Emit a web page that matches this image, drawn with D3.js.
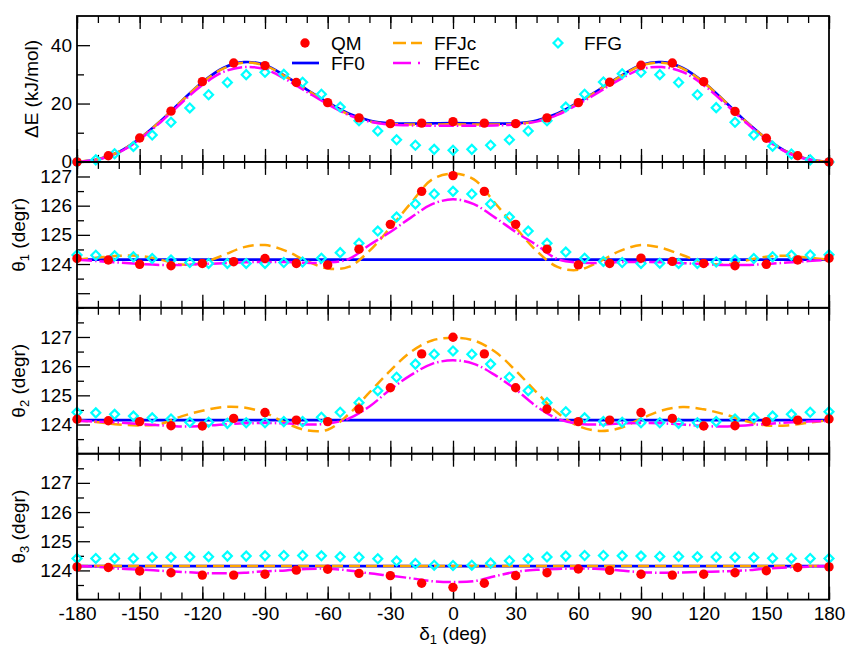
<!DOCTYPE html>
<meta charset="utf-8">
<script src="https://d3js.org/d3.v7.min.js"></script>
<style>
  body { margin: 0; background: #fff; }
  text { font-family: "Liberation Sans", Arial, Helvetica, sans-serif; fill: #000; }
</style>
<div id="chart"></div>
<script>

// angle grids (deg)
const qmX = d3.range(-180, 181, 15);
const lineX = d3.range(-180, 181, 10);
const ffgX = d3.range(-180, 181, 9);
const flatX = [-180, 180];

const xMajor = [-180, -150, -120, -90, -60, -30, 0, 30, 60, 90, 120, 150, 180];
const xMinor = d3.range(-180, 181, 10);

// ---- panel 1 : dE (kJ/mol)
const qmE = [0, 2.1, 8.2, 17.4, 27.5, 33.9, 33.0, 27.2, 20.3, 15.1, 13.1, 13.3, 13.8,
             13.3, 13.1, 15.1, 20.3, 27.3, 33.1, 33.9, 27.5, 17.3, 8.1, 2.1, 0];
const ff0E = [0, 0.9, 3.4, 8.0, 14.0, 20.8, 27.3, 32.2, 34.2, 33.2, 29.3, 24.8, 20.4, 16.6, 14.2, 13.2, 13.1, 13.2, 13.3,
              13.2, 13.1, 13.2, 14.2, 16.6, 20.4, 24.8, 29.3, 33.2, 34.2, 32.2, 27.3, 20.8, 14.0, 8.0, 3.4, 0.9, 0];
const ffjcE = [0, 0.9, 3.4, 8.0, 14.0, 20.8, 27.2, 32.0, 34.0, 33.0, 29.2, 24.7, 20.2, 16.3, 13.9, 13.0, 12.8, 12.8, 12.9,
               12.8, 12.8, 13.0, 13.9, 16.3, 20.2, 24.7, 29.2, 33.0, 34.0, 32.0, 27.2, 20.8, 14.0, 8.0, 3.4, 0.9, 0];
const ffecE = [0, 0.8, 3.2, 7.7, 13.6, 20.2, 26.3, 30.8, 32.5, 31.8, 28.3, 24.0, 19.8, 16.1, 13.8, 12.8, 12.5, 12.4, 12.4,
               12.4, 12.5, 12.8, 13.8, 16.1, 19.8, 24.0, 28.3, 31.8, 32.5, 30.8, 26.3, 20.2, 13.6, 7.7, 3.2, 0.8, 0];
const ffgE = [0, 0.7, 2.8, 5.3, 9.2, 13.6, 18.5, 23.0, 27.2, 29.9, 30.7, 30.0, 27.3, 23.2, 18.8, 14.1, 10.6, 7.6, 5.7, 4.3, 4.0,
              4.3, 5.7, 7.6, 10.6, 14.1, 18.8, 23.2, 27.4, 30.2, 30.7, 29.9, 27.2, 23.0, 18.6, 13.6, 9.2, 5.4, 2.7, 0.7, 0];

// ---- panel 2 : theta1 (degr)
const qmT1 = [124.19, 124.14, 123.99, 123.94, 124.02, 124.08, 124.19, 124.02, 123.97, 124.51, 125.36, 126.49, 127.03,
              126.49, 125.36, 124.51, 123.97, 124.02, 124.20, 124.09, 124.02, 123.94, 123.99, 124.14, 124.20];
const ff0T1 = [124.15, 124.15];
const ffjcT1 = [124.15, 124.22, 124.28, 124.28, 124.15, 123.98, 124.04, 124.30, 124.58, 124.65, 124.45, 124.10, 123.85, 123.90, 124.45, 125.25, 126.10, 126.90, 127.10,
                126.90, 126.10, 125.25, 124.45, 123.90, 123.80, 124.08, 124.45, 124.65, 124.55, 124.30, 124.05, 123.98, 124.12, 124.25, 124.28, 124.22, 124.15];
const ffecT1 = [124.15, 124.10, 124.05, 124.00, 123.97, 123.97, 124.00, 124.03, 124.06, 124.07, 124.07, 124.04, 124.05, 124.17, 124.65, 125.10, 125.60, 126.05, 126.22,
                126.05, 125.60, 125.10, 124.65, 124.17, 124.05, 124.04, 124.07, 124.07, 124.06, 124.03, 124.00, 123.97, 123.97, 124.00, 124.05, 124.10, 124.15];
const ffgT1 = [124.31, 124.30, 124.28, 124.25, 124.19, 124.14, 124.05, 124.02, 124.02, 124.02, 124.02, 124.05, 124.07, 124.20, 124.39, 124.71, 125.13, 125.61, 126.06, 126.40, 126.49,
               126.40, 126.06, 125.61, 125.13, 124.71, 124.41, 124.20, 124.09, 124.05, 124.02, 124.03, 124.02, 124.02, 124.07, 124.14, 124.19, 124.25, 124.30, 124.31, 124.32];

// ---- panel 3 : theta2 (degr)
const qmT2 = [124.18, 124.13, 124.10, 123.96, 123.95, 124.21, 124.41, 124.15, 124.10, 124.53, 125.26, 126.42, 126.99,
              126.42, 125.26, 124.53, 124.10, 124.15, 124.41, 124.21, 123.95, 123.96, 124.10, 124.15, 124.19];
const ff0T2 = [124.15, 124.15];
const ffjcT2 = [124.15, 124.08, 124.00, 123.97, 124.02, 124.28, 124.47, 124.60, 124.58, 124.40, 124.05, 123.80, 123.82, 124.35, 125.10, 125.85, 126.50, 126.88, 126.97,
                126.88, 126.50, 125.85, 125.10, 124.40, 123.95, 123.78, 123.88, 124.20, 124.48, 124.60, 124.52, 124.35, 124.12, 123.97, 123.97, 124.06, 124.15];
const ffecT2 = [124.12, 124.10, 124.07, 124.02, 123.97, 123.93, 123.95, 124.00, 124.04, 124.05, 124.04, 124.00, 124.03, 124.20, 124.62, 125.20, 125.70, 126.08, 126.20,
                126.08, 125.70, 125.20, 124.62, 124.20, 124.03, 124.00, 124.04, 124.05, 124.04, 124.00, 123.95, 123.93, 123.97, 124.02, 124.07, 124.10, 124.12];
const ffgT2 = [124.42, 124.40, 124.35, 124.29, 124.23, 124.19, 124.08, 124.08, 124.04, 124.06, 124.06, 124.10, 124.10, 124.25, 124.42, 124.75, 125.16, 125.62, 126.07, 126.41, 126.52,
               126.41, 126.07, 125.62, 125.16, 124.75, 124.44, 124.23, 124.10, 124.08, 124.06, 124.06, 124.04, 124.06, 124.10, 124.19, 124.23, 124.29, 124.35, 124.42, 124.44];

// ---- panel 4 : theta3 (degr)
const qmT3 = [124.12, 124.10, 123.98, 123.92, 123.84, 123.84, 123.87, 124.01, 124.04, 123.90, 123.82, 123.56, 123.42,
              123.56, 123.82, 123.92, 124.05, 124.00, 123.87, 123.84, 123.87, 123.92, 123.99, 124.10, 124.12];
const ff0T3 = [124.15, 124.15];
const ffjcT3 = [124.15, 124.15];
const ffecT3 = [124.15, 124.12, 124.06, 124.03, 123.99, 123.95, 123.91, 123.90, 123.92, 123.97, 124.00, 124.05, 124.06, 124.00, 123.90, 123.82, 123.73, 123.63, 123.60,
                123.63, 123.80, 123.95, 124.02, 124.05, 124.07, 124.05, 124.00, 123.94, 123.92, 123.93, 123.95, 123.97, 124.00, 124.06, 124.10, 124.13, 124.15];
const ffgT3 = [124.41, 124.41, 124.41, 124.41, 124.45, 124.45, 124.47, 124.47, 124.49, 124.49, 124.50, 124.51, 124.51, 124.50, 124.47, 124.45, 124.40, 124.32, 124.24, 124.18, 124.17,
               124.18, 124.25, 124.33, 124.40, 124.46, 124.49, 124.51, 124.51, 124.50, 124.49, 124.48, 124.48, 124.47, 124.46, 124.45, 124.44, 124.42, 124.41, 124.41, 124.41];

const angMajor = [123, 124, 125, 126, 127];
const angMinor = [122.5, 123.5, 124.5, 125.5, 126.5, 127.5];

const panels = [
  {sym: "ΔE", sub: "", unit: " (kJ/mol)", domain: [0, 50], major: [0, 20, 40], minor: [10, 30], labels: [0, 20, 40], titleX: 38,
   qm: qmE, ff0: [lineX, ff0E], ffjc: [lineX, ffjcE], ffec: [lineX, ffecE], ffg: ffgE},
  {sym: "θ", sub: "1", unit: " (degr)", domain: [122.5, 127.5], major: angMajor, minor: angMinor, labels: [124, 125, 126, 127], titleX: 25,
   qm: qmT1, ff0: [flatX, ff0T1], ffjc: [lineX, ffjcT1], ffec: [lineX, ffecT1], ffg: ffgT1},
  {sym: "θ", sub: "2", unit: " (degr)", domain: [123, 128], major: [124, 125, 126, 127], minor: [123.5, 124.5, 125.5, 126.5, 127.5], labels: [124, 125, 126, 127], titleX: 25,
   qm: qmT2, ff0: [flatX, ff0T2], ffjc: [lineX, ffjcT2], ffec: [lineX, ffecT2], ffg: ffgT2},
  {sym: "θ", sub: "3", unit: " (degr)", domain: [123, 128], major: [124, 125, 126, 127], minor: [123.5, 124.5, 125.5, 126.5, 127.5], labels: [124, 125, 126, 127], titleX: 25,
   qm: qmT3, ff0: [flatX, ff0T3], ffjc: [flatX, ffjcT3], ffec: [lineX, ffecT3], ffg: ffgT3}
];

const W = 846, H = 648;
const margin = {left: 77, right: 17, top: 16};
const panelH = 145.9;
const fontSize = 19;

const colors = {qm: "#ff0000", ff0: "#0000ff", ffjc: "#ffa500", ffec: "#ff00ff", ffg: "#00ffff"};
const dashJc = "11,6";
const dashEc = "15,3,1.5,3";

const svg = d3.select("#chart").append("svg")
  .attr("width", W).attr("height", H);
svg.append("rect").attr("width", W).attr("height", H).attr("fill", "#fff");

const x = d3.scaleLinear().domain([-180, 180]).range([margin.left, W - margin.right]);

const diamond = d3.symbol().type(d3.symbolSquare).size(40);

// plain hyphen for negatives, like the original plot
const plainNum = d => String(d);

function noDomain(g) {
  g.select(".domain").remove();
  g.selectAll(".tick line").attr("stroke", "#000").attr("stroke-width", 1.3);
}

panels.forEach((p, i) => {
  const top = margin.top + i * panelH;
  const bottom = top + panelH;
  const y = d3.scaleLinear().domain(p.domain).range([bottom, top]);
  const g = svg.append("g");

  g.append("clipPath").attr("id", "clip" + i)
    .append("rect").attr("x", x.range()[0]).attr("y", top)
    .attr("width", x.range()[1] - x.range()[0]).attr("height", panelH);

  // x ticks, inward, top and bottom
  g.append("g").attr("transform", `translate(0,${bottom})`)
    .call(d3.axisBottom(x).tickValues(xMinor).tickSize(-7).tickFormat("")).call(noDomain);
  g.append("g").attr("transform", `translate(0,${bottom})`)
    .call(d3.axisBottom(x).tickValues(xMajor).tickSize(-13).tickFormat("")).call(noDomain);
  g.append("g").attr("transform", `translate(0,${top})`)
    .call(d3.axisTop(x).tickValues(xMinor).tickSize(-7).tickFormat("")).call(noDomain);
  g.append("g").attr("transform", `translate(0,${top})`)
    .call(d3.axisTop(x).tickValues(xMajor).tickSize(-13).tickFormat("")).call(noDomain);

  // y ticks
  g.append("g").attr("transform", `translate(${margin.left},0)`)
    .call(d3.axisLeft(y).tickValues(p.minor).tickSize(-7).tickFormat("")).call(noDomain);
  g.append("g").attr("transform", `translate(${margin.left},0)`)
    .call(d3.axisLeft(y).tickValues(p.major).tickSize(-13).tickPadding(5)
      .tickFormat(d => p.labels.includes(d) ? plainNum(d) : ""))
    .call(noDomain)
    .call(a => a.selectAll("text").attr("font-size", fontSize).attr("font-family", null));

  // y title
  const t = g.append("text")
    .attr("transform", `translate(${p.titleX},${(top + bottom) / 2}) rotate(-90)`)
    .attr("text-anchor", "middle").attr("font-size", fontSize);
  t.append("tspan").text(p.sym);
  if (p.sub) t.append("tspan").attr("font-size", 13).attr("baseline-shift", "-30%").text(p.sub);
  t.append("tspan").text(p.unit);

  const plot = g.append("g").attr("clip-path", `url(#clip${i})`);
  const line = d3.line().curve(d3.curveCatmullRom.alpha(0.5))
    .x(d => x(d[0])).y(d => y(d[1]));

  plot.append("path").datum(d3.zip(p.ff0[0], p.ff0[1]))
    .attr("d", line).attr("fill", "none").attr("stroke", colors.ff0).attr("stroke-width", 2.7);
  plot.append("path").datum(d3.zip(p.ffjc[0], p.ffjc[1]))
    .attr("d", line).attr("fill", "none").attr("stroke", colors.ffjc).attr("stroke-width", 2.5)
    .attr("stroke-dasharray", dashJc);
  plot.append("path").datum(d3.zip(p.ffec[0], p.ffec[1]))
    .attr("d", line).attr("fill", "none").attr("stroke", colors.ffec).attr("stroke-width", 2.5)
    .attr("stroke-dasharray", dashEc);

  g.append("g").selectAll("path").data(d3.zip(ffgX, p.ffg)).join("path")
    .attr("d", diamond)
    .attr("transform", d => `translate(${x(d[0])},${y(d[1])}) rotate(45)`)
    .attr("fill", "none").attr("stroke", colors.ffg).attr("stroke-width", 2.2);

  g.append("g").selectAll("circle").data(d3.zip(qmX, p.qm)).join("circle")
    .attr("cx", d => x(d[0])).attr("cy", d => y(d[1])).attr("r", 4.7)
    .attr("fill", colors.qm);

  // frame
  g.append("rect").attr("x", x.range()[0]).attr("y", top)
    .attr("width", x.range()[1] - x.range()[0]).attr("height", panelH)
    .attr("fill", "none").attr("stroke", "#000").attr("stroke-width", 1.8);

  if (i === panels.length - 1) {
    g.append("g").attr("transform", `translate(0,${bottom})`)
      .call(d3.axisBottom(x).tickValues(xMajor).tickSize(0).tickPadding(7).tickFormat(plainNum))
      .call(a => a.select(".domain").remove())
      .call(a => a.selectAll("text").attr("font-size", fontSize).attr("font-family", null));

    const xt = svg.append("text").attr("x", x(0)).attr("y", 640)
      .attr("text-anchor", "middle").attr("font-size", fontSize);
    xt.append("tspan").text("δ");
    xt.append("tspan").attr("font-size", 13).attr("baseline-shift", "-30%").text("1");
    xt.append("tspan").text(" (deg)");
  }
});

// legend
const leg = svg.append("g").attr("font-size", fontSize);
leg.append("circle").attr("cx", 305).attr("cy", 43).attr("r", 4.7).attr("fill", colors.qm);
leg.append("text").attr("x", 331).attr("y", 50).text("QM");
leg.append("line").attr("x1", 292).attr("x2", 319).attr("y1", 63).attr("y2", 63)
  .attr("stroke", colors.ff0).attr("stroke-width", 2.7);
leg.append("text").attr("x", 331).attr("y", 70).text("FF0");
leg.append("line").attr("x1", 393).attr("x2", 422).attr("y1", 43).attr("y2", 43)
  .attr("stroke", colors.ffjc).attr("stroke-width", 2.5).attr("stroke-dasharray", "13,5");
leg.append("text").attr("x", 434).attr("y", 50).text("FFJc");
leg.append("line").attr("x1", 393).attr("x2", 422).attr("y1", 63).attr("y2", 63)
  .attr("stroke", colors.ffec).attr("stroke-width", 2.5).attr("stroke-dasharray", "18,7,2,7");
leg.append("text").attr("x", 434).attr("y", 70).text("FFEc");
leg.append("path").attr("d", diamond).attr("transform", "translate(558,43) rotate(45)")
  .attr("fill", "none").attr("stroke", colors.ffg).attr("stroke-width", 2.2);
leg.append("text").attr("x", 584).attr("y", 50).text("FFG");

</script>
